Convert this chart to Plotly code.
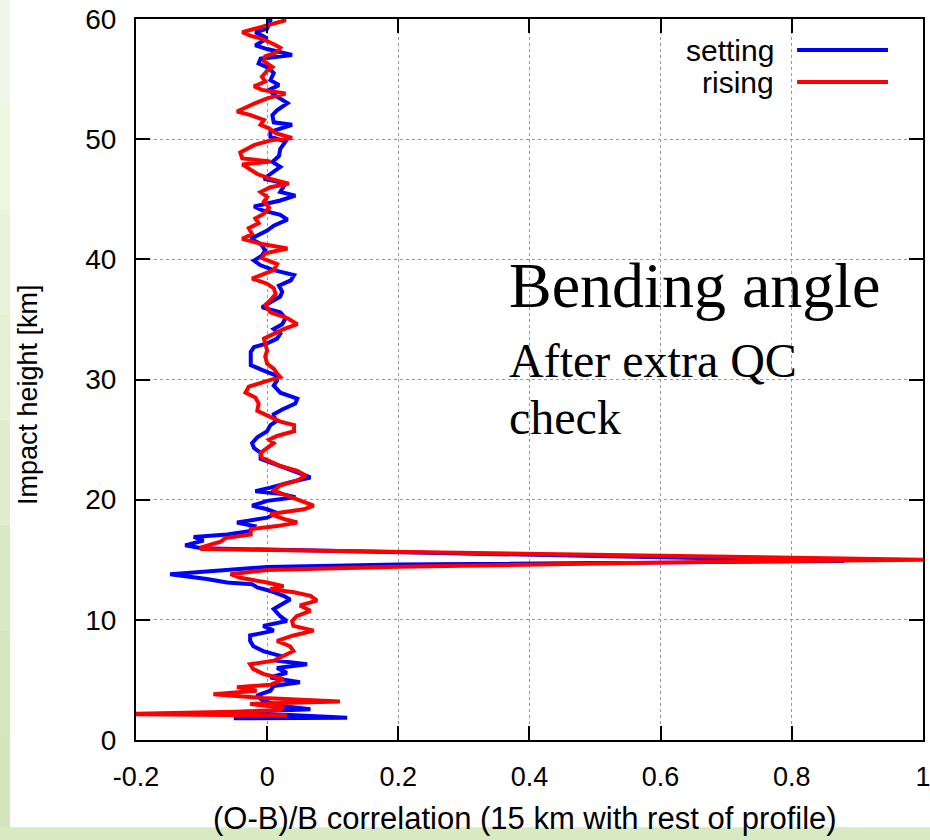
import plotly.graph_objects as go

# setting occultations: impact height [km] and (O-B)/B correlation with 15 km
setting_height = [1.8, 1.86, 2.3, 2.55, 2.8, 3.25, 3.7, 4.1, 4.5, 4.8, 5.2, 5.6, 6.0, 6.3, 6.6,
                  7.0, 7.4, 7.8, 8.25, 8.7, 9.1, 9.5, 9.9, 10.3, 10.9, 11.4, 11.7, 12.0, 12.4,
                  12.7, 12.97, 13.1, 13.4, 13.8, 14.4, 14.6, 14.9, 15.95, 16.2, 16.6, 16.9,
                  17.1, 17.4, 17.8, 18.1, 18.5, 18.9, 19.2, 19.5, 19.9, 20.2, 20.5, 20.7, 21.0,
                  21.4, 21.85, 22.3, 22.8, 23.4, 23.9, 24.3, 24.7, 25.2, 25.7, 26.2, 26.5, 27.1,
                  27.5, 28.0, 28.4, 28.9, 29.5, 29.9, 30.3, 30.8, 31.2, 31.7, 32.3, 32.7, 33.0,
                  33.4, 33.8, 34.2, 34.6, 35.1, 35.6, 36.0, 36.4, 36.9, 37.3, 37.8, 38.25, 38.7,
                  39.1, 39.5, 39.9, 40.3, 40.75, 41.3, 41.7, 42.0, 42.4, 42.8, 43.3, 43.7, 44.1,
                  44.4, 44.9, 45.3, 45.6, 46.3, 46.7, 47.1, 47.7, 48.1, 48.6, 49.2, 49.8, 50.2,
                  50.6, 51.2, 51.4, 52.0, 52.4, 53.0, 53.7, 54.1, 54.5, 54.9, 55.5, 55.9, 56.3,
                  56.7, 57.0, 57.5, 57.8, 58.4, 58.9, 59.2, 59.9, 60.2]
setting_corr = [-0.051, 0.122, -0.051, 0.066, 0.025, -0.006, -0.016, 0.005, 0.010, 0.050, 0.005,
                0.030, 0.015, 0.061, 0.015, 0.020, -0.006, -0.021, -0.026, -0.026, 0.010, -0.006,
                0.030, 0.020, 0.010, 0.025, 0.035, 0.025, 0.005, -0.015, -0.023, -0.061, -0.092,
                -0.148, 0.0, 0.2, 0.88, -0.10, -0.125, -0.097, -0.112, -0.061, -0.025, -0.020,
                -0.046, 0.0, 0.015, 0.0, -0.023, 0.0, 0.043, 0.020, -0.018, 0.005, 0.031, 0.066,
                0.046, 0.020, -0.010, -0.010, -0.020, -0.023, -0.015, 0.0, 0.005, 0.013, 0.010,
                0.023, 0.043, 0.046, 0.020, 0.010, 0.015, 0.015, -0.008, -0.025, -0.025, -0.025,
                -0.020, 0.0, 0.015, 0.020, 0.010, 0.023, 0.028, 0.020, -0.008, 0.005, 0.020,
                0.023, 0.018, 0.036, 0.041, 0.010, -0.010, -0.020, -0.008, -0.003, -0.010,
                -0.025, -0.013, 0.0, 0.010, 0.031, 0.020, -0.008, -0.020, 0.020, 0.043, 0.020,
                0.028, -0.005, 0.005, 0.020, 0.008, 0.018, 0.020, 0.028, 0.005, 0.005, 0.038,
                0.010, 0.008, 0.015, 0.031, 0.010, 0.003, 0.018, 0.005, 0.010, 0.003, -0.013,
                -0.010, 0.038, 0.0, -0.018, 0.0, -0.018, 0.0, 0.005, 0.003]

# rising occultations
rising_height = [2.05, 2.15, 2.35, 2.5, 2.7, 3.0, 3.2, 3.5, 3.8, 4.1, 4.4, 4.6, 5.06, 5.5, 5.9,
                 6.3, 6.6, 7.0, 7.4, 7.8, 8.25, 8.7, 9.1, 9.5, 9.9, 10.3, 10.75, 11.2, 11.6,
                 12.0, 12.3, 12.55, 12.8, 13.1, 13.5, 13.8, 14.15, 14.42, 14.78, 15.0, 15.9,
                 16.0, 16.5, 16.8, 17.1, 17.55, 17.8, 18.1, 18.4, 18.8, 19.2, 19.5, 19.8, 20.2,
                 20.75, 21.2, 21.6, 22.0, 22.4, 22.8, 23.5, 23.9, 24.3, 24.7, 25.0, 25.3, 25.7,
                 26.2, 26.5, 27.0, 27.4, 28.0, 28.5, 28.9, 29.4, 29.8, 30.2, 30.5, 30.9, 31.3,
                 31.9, 32.4, 33.0, 33.4, 33.8, 34.2, 34.6, 35.1, 35.6, 36.2, 36.6, 37.1, 37.6,
                 37.97, 38.4, 38.7, 39.1, 39.6, 40.1, 40.5, 40.9, 41.3, 41.7, 42.1, 42.6, 43.0,
                 43.4, 43.8, 44.3, 44.8, 45.2, 45.6, 46.0, 46.3, 46.7, 47.1, 47.7, 47.9, 48.15,
                 48.4, 48.9, 49.5, 49.9, 50.1, 50.5, 50.9, 51.2, 51.6, 52.0, 52.3, 53.0, 53.4,
                 53.8, 54.1, 54.4, 54.8, 55.2, 55.7, 56.0, 56.5, 56.9, 57.2, 57.6, 57.9, 58.4,
                 58.6, 58.9, 59.6, 59.9, 60.2]
rising_corr = [0.030, -0.23, -0.05, 0.02, 0.025, -0.026, 0.111, -0.006, -0.082, -0.016, -0.046,
               0.005, 0.025, -0.006, -0.021, -0.026, 0.010, 0.025, 0.040, 0.035, 0.015, 0.040,
               0.071, 0.040, 0.038, 0.045, 0.066, 0.050, 0.076, 0.066, 0.041, 0.005, 0.025, 0.0,
               -0.041, -0.056, 0.0, 0.2, 0.6, 1.0, -0.10, -0.102, -0.071, -0.064, -0.025, -0.025,
               0.015, 0.046, 0.025, 0.005, 0.056, 0.071, 0.056, 0.036, 0.010, 0.020, 0.046,
               0.059, 0.046, 0.020, -0.008, -0.010, 0.0, 0.010, 0.003, 0.015, 0.041, 0.041,
               0.020, 0.0, -0.015, -0.013, -0.018, -0.033, -0.028, -0.005, 0.020, 0.015, 0.010,
               0.0, -0.003, 0.0, -0.003, -0.005, 0.010, 0.025, 0.046, 0.031, 0.005, -0.003,
               0.005, 0.013, 0.010, 0.0, -0.023, -0.010, 0.010, 0.015, -0.008, -0.003, 0.031,
               -0.010, -0.038, -0.023, -0.028, -0.013, -0.018, -0.005, 0.003, -0.005, 0.0,
               -0.010, 0.005, 0.033, 0.005, -0.015, -0.031, -0.038, 0.005, -0.038, -0.041,
               -0.020, 0.005, 0.038, 0.013, 0.003, -0.010, -0.005, -0.025, -0.046, -0.018, 0.0,
               0.028, -0.008, -0.020, -0.003, -0.008, 0.0, 0.008, -0.005, -0.003, 0.013, 0.020,
               0.010, -0.010, -0.025, -0.038, 0.005, 0.028, 0.02]

x_ticks = [-0.2, 0, 0.2, 0.4, 0.6, 0.8, 1]
x_tick_labels = ['-0.2', '0', '0.2', '0.4', '0.6', '0.8', '1']
y_ticks = [0, 10, 20, 30, 40, 50, 60]

sans = 'Liberation Sans, Arial, sans-serif'
serif = 'Liberation Serif, Times New Roman, serif'

fig = go.Figure()
fig.add_trace(go.Scatter(x=setting_corr, y=setting_height, mode='lines', name='setting',
                         line=dict(color='#0000ff', width=4)))
fig.add_trace(go.Scatter(x=rising_corr, y=rising_height, mode='lines', name='rising',
                         line=dict(color='#ff0000', width=4)))

axis_style = dict(showline=True, linecolor='black', linewidth=2, mirror='allticks',
                  ticks='inside', ticklen=14, tickwidth=2, tickcolor='black',
                  showgrid=True, gridcolor='#999999', griddash='dot', gridwidth=1,
                  zeroline=False, automargin=False, ticklabeloverflow='allow')

fig.update_xaxes(range=[-0.2, 1.0001], tickvals=x_ticks, ticktext=x_tick_labels,
                 tickfont=dict(family=sans, size=27, color='black'),
                 ticklabelstandoff=12, **axis_style)
fig.update_yaxes(range=[0, 60], tickvals=y_ticks,
                 tickfont=dict(family=sans, size=28, color='black'),
                 ticklabelstandoff=12, **axis_style)

# slide background strips (light green)
greens = ['#f2f7ea', '#eef5e3', '#e9f2dc', '#e4efd4', '#dfeccd', '#dae9c5', '#d6e7bf', '#d3e5ba']
n = len(greens)
for i, c in enumerate(greens):
    y0 = -0.139 + i * (1.028 + 0.139) / n
    y1 = -0.139 + (i + 1) * (1.028 + 0.139) / n
    fig.add_shape(type='rect', xref='paper', yref='paper', x0=-0.173, x1=-0.160,
                  y0=y0, y1=y1, fillcolor=greens[n - 1 - i], line_width=0, layer='below')
fig.add_shape(type='rect', xref='paper', yref='paper', x0=-0.173, x1=1.01,
              y0=-0.139, y1=-0.121, fillcolor='#d8eac2', line_width=0, layer='below')

# gnuplot style key: text right, line sample after it
fig.add_annotation(text='setting', xref='paper', yref='paper', x=0.813, y=0.957,
                   xanchor='right', yanchor='middle', showarrow=False,
                   font=dict(family=sans, size=30, color='black'))
fig.add_annotation(text='rising', xref='paper', yref='paper', x=0.813, y=0.9126,
                   xanchor='right', yanchor='middle', showarrow=False,
                   font=dict(family=sans, size=30, color='black'))
fig.add_shape(type='line', xref='paper', yref='paper', x0=0.840, x1=0.9555,
              y0=0.957, y1=0.957, line=dict(color='#0000ff', width=4))
fig.add_shape(type='line', xref='paper', yref='paper', x0=0.840, x1=0.9555,
              y0=0.9126, y1=0.9126, line=dict(color='#ff0000', width=4))

# text inside the plot
fig.add_annotation(text='Bending angle', xref='paper', yref='paper', x=0.471, y=0.631,
                   xanchor='left', yanchor='middle', showarrow=False,
                   font=dict(family=serif, size=64, color='black'))
fig.add_annotation(text='After extra QC', xref='paper', yref='paper', x=0.471, y=0.526,
                   xanchor='left', yanchor='middle', showarrow=False,
                   font=dict(family=serif, size=48, color='black'))
fig.add_annotation(text='check', xref='paper', yref='paper', x=0.471, y=0.447,
                   xanchor='left', yanchor='middle', showarrow=False,
                   font=dict(family=serif, size=48, color='black'))

# axis titles
fig.add_annotation(text='Impact height [km]', xref='paper', yref='paper', x=-0.138, y=0.479,
                   xanchor='center', yanchor='middle', textangle=-90, showarrow=False,
                   font=dict(family=sans, size=27, color='black'))
fig.add_annotation(text='(O-B)/B correlation (15 km with rest of profile)', xref='paper',
                   yref='paper', x=0.494, y=-0.109, xanchor='center', yanchor='middle',
                   showarrow=False, font=dict(family=sans, size=31, color='black'))

fig.update_layout(width=930, height=840, showlegend=False,
                  margin=dict(l=136, r=7, t=19, b=100),
                  paper_bgcolor='white', plot_bgcolor='white')

fig.write_html("out.html", config={'displayModeBar': False},
               post_script="document.body.style.margin='0';document.body.style.overflow='hidden';")
